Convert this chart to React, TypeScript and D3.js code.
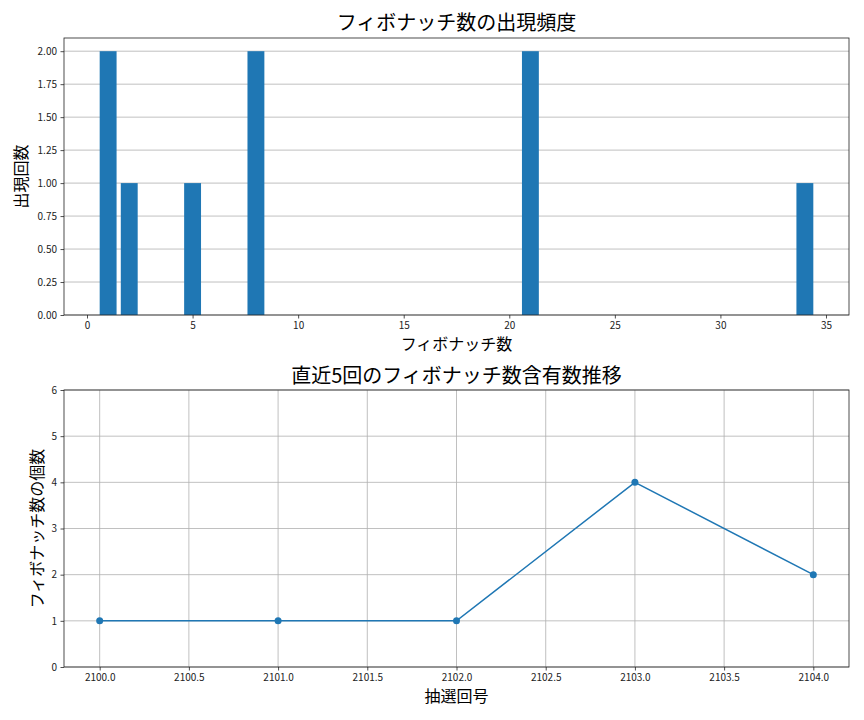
import { useEffect, useRef } from 'react';
import * as d3 from 'd3';

const fibNumbers = [1, 2, 5, 8, 21, 34];
const fibCounts = [2, 1, 1, 2, 2, 1];
const drawNumbers = [2100, 2101, 2102, 2103, 2104];
const fibPerDraw = [1, 1, 1, 4, 2];

const FONT = '"Noto Sans CJK JP", "Noto Sans", sans-serif';
const BLUE = '#1f77b4';

export default function App() {
  const svgRef = useRef<SVGSVGElement>(null);

  useEffect(() => {
    if (!svgRef.current) return;
    const svg = d3.select(svgRef.current);
    svg.selectAll('*').remove();

    const left = 64;
    const right = 849;

    // ---- top: bar chart
    const t = { top: 38, bottom: 315 };
    const x1 = d3.scaleLinear().domain([-1.09, 36.09]).range([left, right]);
    const y1 = d3.scaleLinear().domain([0, 2.1]).range([t.bottom, t.top]);

    const g1 = svg.append('g');
    g1.append('g')
      .selectAll('line')
      .data(d3.range(0, 2.01, 0.25))
      .join('line')
      .attr('x1', left).attr('x2', right)
      .attr('y1', d => y1(d)).attr('y2', d => y1(d))
      .attr('stroke', '#b0b0b0').attr('stroke-width', 0.8);

    g1.append('g')
      .selectAll('rect')
      .data(fibNumbers)
      .join('rect')
      .attr('x', d => x1(d - 0.4))
      .attr('width', d => x1(d + 0.4) - x1(d - 0.4))
      .attr('y', (d, i) => y1(fibCounts[i]))
      .attr('height', (d, i) => y1(0) - y1(fibCounts[i]))
      .attr('fill', BLUE);

    const ax1 = g1.append('g')
      .attr('transform', `translate(0,${t.bottom})`)
      .call(d3.axisBottom(x1).tickValues(d3.range(0, 36, 5)).tickFormat(d3.format('d')).tickSize(3.5).tickPadding(3.5));
    const ay1 = g1.append('g')
      .attr('transform', `translate(${left},0)`)
      .call(d3.axisLeft(y1).tickValues(d3.range(0, 2.01, 0.25)).tickFormat(d3.format('.2f')).tickSize(3.5).tickPadding(3.5));

    g1.append('rect')
      .attr('x', left).attr('y', t.top)
      .attr('width', right - left).attr('height', t.bottom - t.top)
      .attr('fill', 'none').attr('stroke', '#222').attr('stroke-width', 0.8);

    g1.append('text')
      .attr('x', (left + right) / 2).attr('y', 30)
      .attr('text-anchor', 'middle').attr('font-size', 20)
      .text('フィボナッチ数の出現頻度');
    g1.append('text')
      .attr('x', (left + right) / 2).attr('y', 350)
      .attr('text-anchor', 'middle').attr('font-size', 16)
      .text('フィボナッチ数');
    g1.append('text')
      .attr('transform', `translate(27,${(t.top + t.bottom) / 2}) rotate(-90)`)
      .attr('text-anchor', 'middle').attr('font-size', 16)
      .text('出現回数');

    // ---- bottom: line chart
    const b = { top: 390, bottom: 667 };
    const x2 = d3.scaleLinear().domain([2099.8, 2104.2]).range([left, right]);
    const y2 = d3.scaleLinear().domain([0, 6]).range([b.bottom, b.top]);
    const g2 = svg.append('g');

    g2.append('g')
      .selectAll('line')
      .data(d3.range(2100, 2104.01, 0.5))
      .join('line')
      .attr('x1', d => x2(d)).attr('x2', d => x2(d))
      .attr('y1', b.top).attr('y2', b.bottom)
      .attr('stroke', '#b0b0b0').attr('stroke-width', 0.8);
    g2.append('g')
      .selectAll('line')
      .data(d3.range(0, 7))
      .join('line')
      .attr('x1', left).attr('x2', right)
      .attr('y1', d => y2(d)).attr('y2', d => y2(d))
      .attr('stroke', '#b0b0b0').attr('stroke-width', 0.8);

    const pts = drawNumbers.map((d, i) => [d, fibPerDraw[i]] as [number, number]);
    g2.append('path')
      .datum(pts)
      .attr('fill', 'none').attr('stroke', BLUE).attr('stroke-width', 1.5)
      .attr('d', d3.line<[number, number]>().x(d => x2(d[0])).y(d => y2(d[1])));
    g2.append('g')
      .selectAll('circle')
      .data(pts)
      .join('circle')
      .attr('cx', d => x2(d[0])).attr('cy', d => y2(d[1]))
      .attr('r', 3.5).attr('fill', BLUE);

    const ax2 = g2.append('g')
      .attr('transform', `translate(0,${b.bottom})`)
      .call(d3.axisBottom(x2).tickValues(d3.range(2100, 2104.01, 0.5)).tickFormat(d3.format('.1f')).tickSize(3.5).tickPadding(3.5));
    const ay2 = g2.append('g')
      .attr('transform', `translate(${left},0)`)
      .call(d3.axisLeft(y2).tickValues(d3.range(0, 7)).tickFormat(d3.format('d')).tickSize(3.5).tickPadding(3.5));

    g2.append('rect')
      .attr('x', left).attr('y', b.top)
      .attr('width', right - left).attr('height', b.bottom - b.top)
      .attr('fill', 'none').attr('stroke', '#222').attr('stroke-width', 0.8);

    g2.append('text')
      .attr('x', (left + right) / 2).attr('y', 383)
      .attr('text-anchor', 'middle').attr('font-size', 20)
      .text('直近5回のフィボナッチ数含有数推移');
    g2.append('text')
      .attr('x', (left + right) / 2).attr('y', 702)
      .attr('text-anchor', 'middle').attr('font-size', 16)
      .text('抽選回号');
    g2.append('text')
      .attr('transform', `translate(43,${(b.top + b.bottom) / 2}) rotate(-90)`)
      .attr('text-anchor', 'middle').attr('font-size', 16)
      .text('フィボナッチ数の個数');

    [ax1, ay1, ax2, ay2].forEach(a => {
      a.select('.domain').remove();
      a.selectAll('.tick line').attr('stroke', '#222').attr('stroke-width', 0.8);
      a.selectAll('.tick text').attr('font-family', FONT).attr('font-size', 10).attr('fill', '#222');
    });
  }, []);

  return (
    <svg
      ref={svgRef}
      width={864}
      height={720}
      style={{ position: 'absolute', left: 0, top: 0, fontFamily: FONT, background: '#fff' }}
    />
  );
}
